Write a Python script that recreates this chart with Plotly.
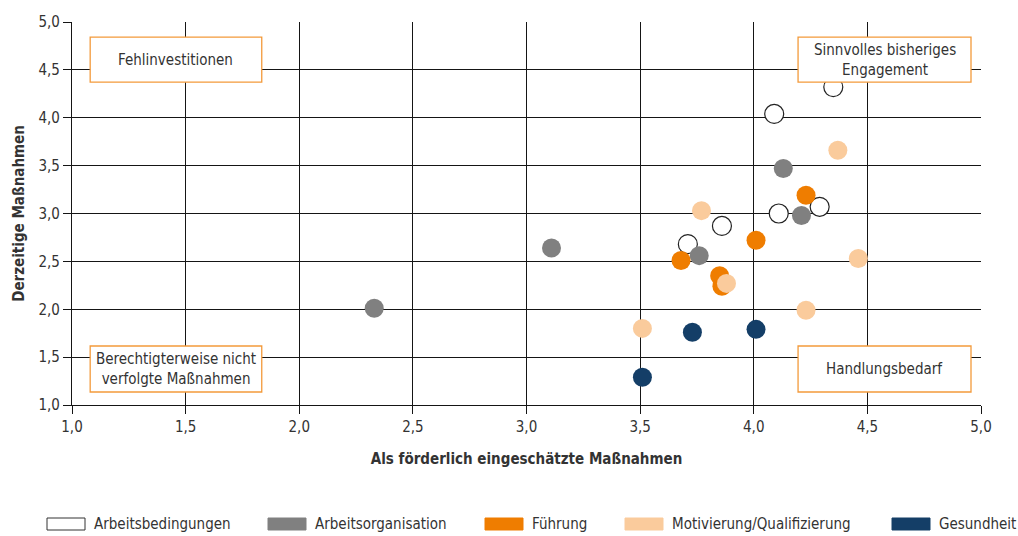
import plotly.graph_objects as go

# Bewertung der Maßnahmen: gefördert (x) vs. derzeit umgesetzt (y)
series_names = ["Arbeitsbedingungen", "Arbeitsorganisation", "Führung",
                "Motivierung/Qualifizierung", "Gesundheit"]

arbeitsbedingungen_x = [4.35, 4.09, 3.86, 3.71, 4.11, 4.29]
arbeitsbedingungen_y = [4.32, 4.04, 2.87, 2.68, 3.00, 3.07]

arbeitsorganisation_x = [2.33, 3.11, 3.76, 4.13, 4.21]
arbeitsorganisation_y = [2.01, 2.64, 2.56, 3.47, 2.98]

fuehrung_x = [3.68, 4.01, 4.23, 3.85, 3.86]
fuehrung_y = [2.51, 2.72, 3.19, 2.35, 2.24]

motivierung_x = [3.77, 4.37, 4.46, 3.88, 4.23, 3.51]
motivierung_y = [3.03, 3.66, 2.53, 2.27, 1.99, 1.80]

gesundheit_x = [3.73, 4.01, 3.51]
gesundheit_y = [1.76, 1.79, 1.29]

quadrant_labels = ["Fehlinvestitionen", "Sinnvolles bisheriges<br>Engagement",
                   "Berechtigterweise nicht<br>verfolgte Maßnahmen", "Handlungsbedarf"]

x_ticks = [1.0, 1.5, 2.0, 2.5, 3.0, 3.5, 4.0, 4.5, 5.0]
y_ticks = [1.0, 1.5, 2.0, 2.5, 3.0, 3.5, 4.0, 4.5, 5.0]

FONT = "Liberation Sans Narrow, DejaVu Sans Condensed, Roboto, sans-serif"
TEXT = "#333333"
LINE = "#151515"
BOX = "#F39A3B"

styles = [
    dict(color="#FFFFFF", line=dict(color="#222222", width=1.2)),
    dict(color="#808080", line=dict(color="#808080", width=0)),
    dict(color="#EF7D00", line=dict(color="#EF7D00", width=0)),
    dict(color="#FACB9C", line=dict(color="#FACB9C", width=0)),
    dict(color="#143E67", line=dict(color="#143E67", width=0)),
]

data = [
    (arbeitsbedingungen_x, arbeitsbedingungen_y),
    (arbeitsorganisation_x, arbeitsorganisation_y),
    (fuehrung_x, fuehrung_y),
    (motivierung_x, motivierung_y),
    (gesundheit_x, gesundheit_y),
]

fig = go.Figure()
for i, (xs, ys) in enumerate(data):
    fig.add_trace(go.Scatter(
        x=xs, y=ys, mode="markers", name=series_names[i], showlegend=False,
        marker=dict(size=19, symbol="circle", color=styles[i]["color"],
                    line=styles[i]["line"]),
        cliponaxis=False,
    ))

# quadrant boxes, drawn on top of the grid
quadrants = [
    (1.08, 1.835, 4.372, 4.843),
    (4.195, 4.956, 4.372, 4.843),
    (1.08, 1.835, 1.136, 1.616),
    (4.195, 4.956, 1.136, 1.616),
]
for label, (x0, x1, y0, y1) in zip(quadrant_labels, quadrants):
    fig.add_shape(type="rect", xref="x", yref="y", x0=x0, x1=x1, y0=y0, y1=y1,
                  fillcolor="white", line=dict(color=BOX, width=1.3), layer="above")
    fig.add_annotation(x=(x0 + x1) / 2, y=(y0 + y1) / 2, xref="x", yref="y",
                       text=label, showarrow=False,
                       font=dict(family=FONT, size=15, color=TEXT))

# custom legend row with wide rectangular keys
legend_x = [47, 268, 485, 625, 892]
W, H = 1018, 536
ml, mr, mt, mb = 72, 37, 22, 131
pw, ph = W - ml - mr, H - mt - mb


def px_to_paper_x(px):
    return (px - ml) / pw


def px_to_paper_y(py):
    return (H - mb - py) / ph


for i, lx in enumerate(legend_x):
    fig.add_shape(type="rect", xref="paper", yref="paper",
                  x0=px_to_paper_x(lx), x1=px_to_paper_x(lx + 38),
                  y0=px_to_paper_y(530), y1=px_to_paper_y(518),
                  fillcolor=styles[i]["color"],
                  line=dict(color="#333333" if i == 0 else styles[i]["color"], width=1))
    fig.add_annotation(x=px_to_paper_x(lx + 45), y=px_to_paper_y(524),
                       xref="paper", yref="paper", xanchor="left", yanchor="middle",
                       text=series_names[i], showarrow=False,
                       font=dict(family=FONT, size=15, color=TEXT))

axis_common = dict(
    showgrid=True, gridcolor=LINE, gridwidth=1.3,
    showline=True, linecolor=LINE, linewidth=1.3,
    ticks="outside", ticklen=8, tickcolor=LINE, tickwidth=1.3,
    tickformat=".1f", zeroline=False,
    tickfont=dict(family=FONT, size=15, color=TEXT),
)

fig.update_xaxes(range=[1, 5], tickvals=x_ticks,
                 title=dict(text="<b>Als förderlich eingeschätzte Maßnahmen</b>", standoff=18,
                            font=dict(family=FONT, size=15, color=TEXT)),
                 **axis_common)
fig.update_yaxes(range=[1, 5], tickvals=y_ticks,
                 title=dict(text="<b>Derzeitige Maßnahmen</b>", standoff=10,
                            font=dict(family=FONT, size=15, color=TEXT)),
                 **axis_common)

fig.update_layout(
    width=W, height=H,
    margin=dict(l=ml, r=mr, t=mt, b=mb),
    paper_bgcolor="white", plot_bgcolor="white",
    separators=",.",
    font=dict(family=FONT, color=TEXT),
    showlegend=False,
)

fig.write_html("out.html")
